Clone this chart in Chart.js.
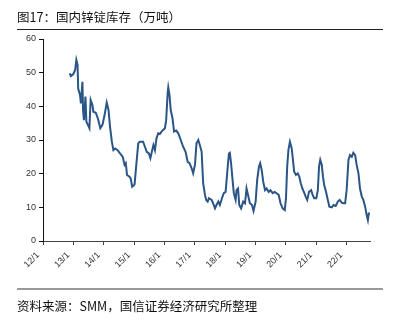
<!DOCTYPE html>
<html>
<head>
<meta charset="utf-8">
<script src="https://cdn.jsdelivr.net/npm/chart.js@4/dist/chart.umd.min.js"></script>
<style>
    body { margin: 0; background: #fff; }
    #wrap { position: relative; width: 401px; height: 322px; overflow: hidden; }
    #zinc { position: absolute; left: 0; top: 0; }
    .txt { position: absolute; font-family: "Noto Sans CJK SC", sans-serif; color: #111; white-space: nowrap; }
    #title { left: 17px; top: 7px; font-size: 12.5px; }
    #source { left: 17px; top: 296px; font-size: 12.5px; }
    #topLine { position: absolute; left: 17px; top: 29px; width: 366px; height: 1px; background: #222; }
    #btmLine { position: absolute; left: 17px; top: 288px; width: 366px; height: 2px; background: #999; }
</style>
</head>
<body>
<div id="wrap">
    <canvas id="zinc" width="401" height="322"></canvas>
    <div class="txt" id="title">图17：国内锌锭库存（万吨）</div>
    <div id="topLine"></div>
    <div id="btmLine"></div>
    <div class="txt" id="source">资料来源：SMM，国信证券经济研究所整理</div>
</div>
<script>
// 時間(年, 小數) 與 庫存(萬噸)
var dates = [
    2012.88, 2012.92, 2013.00, 2013.06, 2013.10, 2013.14, 2013.16, 2013.22, 2013.25, 2013.30,
    2013.32, 2013.35, 2013.40, 2013.43, 2013.48, 2013.53, 2013.57, 2013.63, 2013.66, 2013.74,
    2013.81, 2013.89, 2013.96, 2014.03, 2014.10, 2014.16, 2014.21, 2014.27, 2014.32, 2014.38,
    2014.46, 2014.54, 2014.63, 2014.69, 2014.73, 2014.77, 2014.85, 2014.89, 2014.94, 2014.97,
    2015.02, 2015.08, 2015.14, 2015.19, 2015.30, 2015.36, 2015.42, 2015.49, 2015.54, 2015.60,
    2015.64, 2015.69, 2015.74, 2015.80, 2015.85, 2015.91, 2015.96, 2016.02, 2016.06, 2016.11,
    2016.13, 2016.17, 2016.21, 2016.27, 2016.32, 2016.39, 2016.46, 2016.54, 2016.62, 2016.70,
    2016.77, 2016.83, 2016.90, 2016.95, 2017.01, 2017.06, 2017.12, 2017.17, 2017.23, 2017.28,
    2017.34, 2017.38, 2017.43, 2017.47, 2017.56, 2017.63, 2017.67, 2017.72, 2017.78, 2017.83,
    2017.90, 2017.96, 2018.02, 2018.09, 2018.13, 2018.16, 2018.20, 2018.25, 2018.29, 2018.35,
    2018.38, 2018.43, 2018.47, 2018.53, 2018.60, 2018.66, 2018.71, 2018.77, 2018.82, 2018.89,
    2018.94, 2019.01, 2019.06, 2019.12, 2019.16, 2019.21, 2019.26, 2019.32, 2019.37, 2019.44,
    2019.50, 2019.57, 2019.64, 2019.70, 2019.77, 2019.83, 2019.90, 2019.97, 2020.01, 2020.05,
    2020.09, 2020.14, 2020.20, 2020.24, 2020.28, 2020.34, 2020.40, 2020.45, 2020.50, 2020.55,
    2020.60, 2020.66, 2020.71, 2020.77, 2020.84, 2020.89, 2020.94, 2021.01, 2021.06, 2021.10,
    2021.14, 2021.19, 2021.23, 2021.27, 2021.33, 2021.39, 2021.44, 2021.52, 2021.58, 2021.65,
    2021.72, 2021.78, 2021.85, 2021.90, 2021.96, 2022.01, 2022.07, 2022.12, 2022.18, 2022.23,
    2022.29, 2022.34, 2022.40, 2022.45, 2022.51, 2022.56, 2022.62, 2022.67, 2022.71, 2022.74,
    2022.78
];
var stock = [
    49.8, 49.0, 49.6, 50.8, 53.8, 52.3, 45.3, 43.4, 40.9, 47.3,
    38.9, 35.9, 42.9, 35.4, 34.5, 33.5, 41.9, 40.4, 38.4, 38.1,
    36.4, 33.5, 34.5, 37.4, 41.1, 38.9, 33.9, 29.5, 27.0, 27.5,
    27.0, 26.0, 25.0, 22.6, 23.1, 19.6, 19.1, 18.6, 16.1, 16.3,
    16.8, 23.1, 29.0, 29.5, 29.5, 28.0, 26.5, 26.0, 24.6, 27.0,
    28.5, 27.0, 30.5, 32.0, 31.8, 32.5, 33.0, 33.5, 35.9, 43.9,
    45.6, 43.4, 38.9, 36.4, 32.5, 32.8, 32.0, 30.0, 28.0, 26.5,
    23.5, 23.1, 21.6, 20.1, 22.6, 29.0, 30.0, 28.5, 26.5, 17.1,
    13.7, 12.2, 11.7, 12.7, 12.2, 10.7, 9.7, 10.7, 11.7, 10.7,
    12.7, 14.2, 14.6, 22.1, 26.0, 26.2, 23.1, 18.1, 14.2, 12.2,
    15.1, 15.6, 10.7, 9.7, 11.7, 11.2, 15.6, 13.2, 11.2, 10.7,
    8.9, 11.7, 18.1, 22.1, 23.1, 21.1, 17.6, 15.1, 15.6, 14.6,
    15.1, 14.2, 14.6, 14.2, 13.7, 11.2, 9.7, 9.2, 12.7, 22.1,
    27.0, 29.5, 27.5, 24.1, 20.6, 19.6, 20.1, 19.1, 17.1, 15.6,
    14.6, 13.2, 12.2, 14.6, 15.1, 13.7, 12.7, 12.7, 15.1, 22.1,
    24.1, 22.6, 19.1, 16.6, 14.6, 12.2, 10.2, 10.0, 10.7, 10.4,
    11.7, 12.2, 11.4, 11.2, 11.2, 15.1, 24.1, 25.5, 25.0, 26.2,
    25.5, 22.6, 20.1, 15.6, 13.2, 12.2, 10.2, 7.7, 6.2, 8.2,
    8.2
];
var yearTicks = [2012, 2013, 2014, 2015, 2016, 2017, 2018, 2019, 2020, 2021, 2022];
var yTicks = [0, 10, 20, 30, 40, 50, 60];

zinc_chart();

function zinc_chart() {
    var ctr = document.getElementById('zinc');
    var pts = dates.map(function (d, i) { return { x: d, y: stock[i] }; });
    var line = new Chart(ctr, {
        type: 'line',
        data: {
            datasets: [{
                label: '国内锌锭库存',
                data: pts,
                fill: false,
                borderColor: '#2a5586',
                borderWidth: 2,
                pointRadius: 0,
                tension: 0
            }]
        },
        options: {
            responsive: false,
            animation: false,
            layout: { padding: { top: 39, left: 0, right: 31, bottom: 31 } },
            plugins: { legend: { display: false }, tooltip: { enabled: false } },
            scales: {
                x: {
                    type: 'linear',
                    min: 2012,
                    max: 2022.78,
                    afterBuildTicks: function (s) {
                        s.ticks = yearTicks.map(function (v) { return { value: v }; });
                    },
                    afterFit: function (s) { s.height = 50; },
                    border: { display: true, color: '#444', width: 1 },
                    grid: { display: true, drawOnChartArea: false, drawTicks: true, tickLength: 4, color: '#444' },
                    ticks: {
                        minRotation: 45,
                        maxRotation: 45,
                        autoSkip: false,
                        labelOffset: -5,
                        padding: 5,
                        color: '#333',
                        font: { family: 'Liberation Sans', size: 9 },
                        callback: function (v) { return String(v).slice(2) + '/1'; }
                    }
                },
                y: {
                    min: 0,
                    max: 60,
                    afterBuildTicks: function (s) {
                        s.ticks = yTicks.map(function (v) { return { value: v }; });
                    },
                    afterFit: function (s) { s.width = 43; },
                    border: { display: true, color: '#111', width: 1 },
                    grid: { display: true, drawOnChartArea: false, drawTicks: true, tickLength: 4, color: '#111' },
                    ticks: {
                        padding: 3,
                        color: '#333',
                        font: { family: 'Liberation Sans', size: 9 }
                    }
                }
            }
        }
    });
}
</script>
</body>
</html>
